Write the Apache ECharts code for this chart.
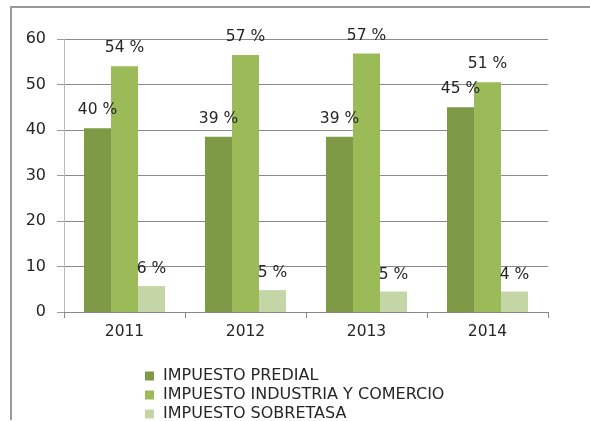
<!DOCTYPE html>
<html>
<head>
<meta charset="utf-8">
<script src="https://cdn.jsdelivr.net/npm/echarts@6/dist/echarts.min.js"></script>
<style>html,body{margin:0;padding:0;background:#fff;}#c{width:590px;height:421px;}</style>
</head>
<body>
<div id="c"></div>
<script>
var categories = ['2011', '2012', '2013', '2014'];
var predial = [40.4, 38.5, 38.5, 45.0];
var industria = [54.0, 56.5, 56.8, 50.5];
var sobretasa = [5.7, 4.8, 4.5, 4.5];
var predialLabels = ['40 %', '39 %', '39 %', '45 %'];
var industriaLabels = ['54 %', '57 %', '57 %', '51 %'];
var sobretasaLabels = ['6 %', '5 %', '5 %', '4 %'];
var seriesNames = ['IMPUESTO PREDIAL', 'IMPUESTO INDUSTRIA Y COMERCIO', 'IMPUESTO SOBRETASA'];
var yTicks = [0, 10, 20, 30, 40, 50, 60];

var FONT = 'DejaVu Sans';
function mkSeries(name, data, labels, color, dist) {
  return {
    name: name, type: 'bar', data: data,
    barGap: '0%', barCategoryGap: '33%',
    itemStyle: { color: color },
    label: {
      show: true, position: 'top', distance: dist,
      fontFamily: FONT, fontSize: 15.5, color: '#262626',
      formatter: function (p) { return labels[p.dataIndex]; }
    }
  };
}
var chart = echarts.init(document.getElementById('c'), null, { renderer: 'canvas' });
chart.setOption({
  animation: false,
  backgroundColor: '#fff',
  grid: { left: 64, right: 42, top: 39, bottom: 109 },
  legend: {
    orient: 'vertical', left: 140, top: 363, height: 60, width: 440,
    itemWidth: 9, itemHeight: 9, itemGap: 3,
    icon: 'rect',
    textStyle: { fontFamily: FONT, fontSize: 16, lineHeight: 14, color: '#262626', padding: [0, 0, 0, 4] },
    data: seriesNames
  },
  xAxis: {
    type: 'category', data: categories,
    axisLine: { lineStyle: { color: '#888' } },
    axisTick: { show: true, length: 6, lineStyle: { color: '#888' } },
    axisLabel: { fontFamily: FONT, fontSize: 15.5, color: '#262626', margin: 12 }
  },
  yAxis: {
    type: 'value', min: yTicks[0], max: yTicks[yTicks.length - 1], interval: 10,
    axisLine: { show: true, lineStyle: { color: '#bbb' } },
    axisTick: { show: true, length: 7, lineStyle: { color: '#999' } },
    splitLine: { lineStyle: { color: '#8a8a8a' } },
    axisLabel: { fontFamily: FONT, fontSize: 16, color: '#262626', margin: 18 }
  },
  series: [
    mkSeries(seriesNames[0], predial, predialLabels, '#7E9A47', 10),
    mkSeries(seriesNames[1], industria, industriaLabels, '#9BBB59', 10),
    mkSeries(seriesNames[2], sobretasa, sobretasaLabels, '#C5D6A6', 9)
  ],
  graphic: [
    { type: 'line', shape: { x1: 10, y1: 7, x2: 590, y2: 7 }, style: { stroke: '#999', lineWidth: 2 } },
    { type: 'line', shape: { x1: 11, y1: 7, x2: 11, y2: 420 }, style: { stroke: '#999', lineWidth: 2 } }
  ]
});
</script>
</body>
</html>
